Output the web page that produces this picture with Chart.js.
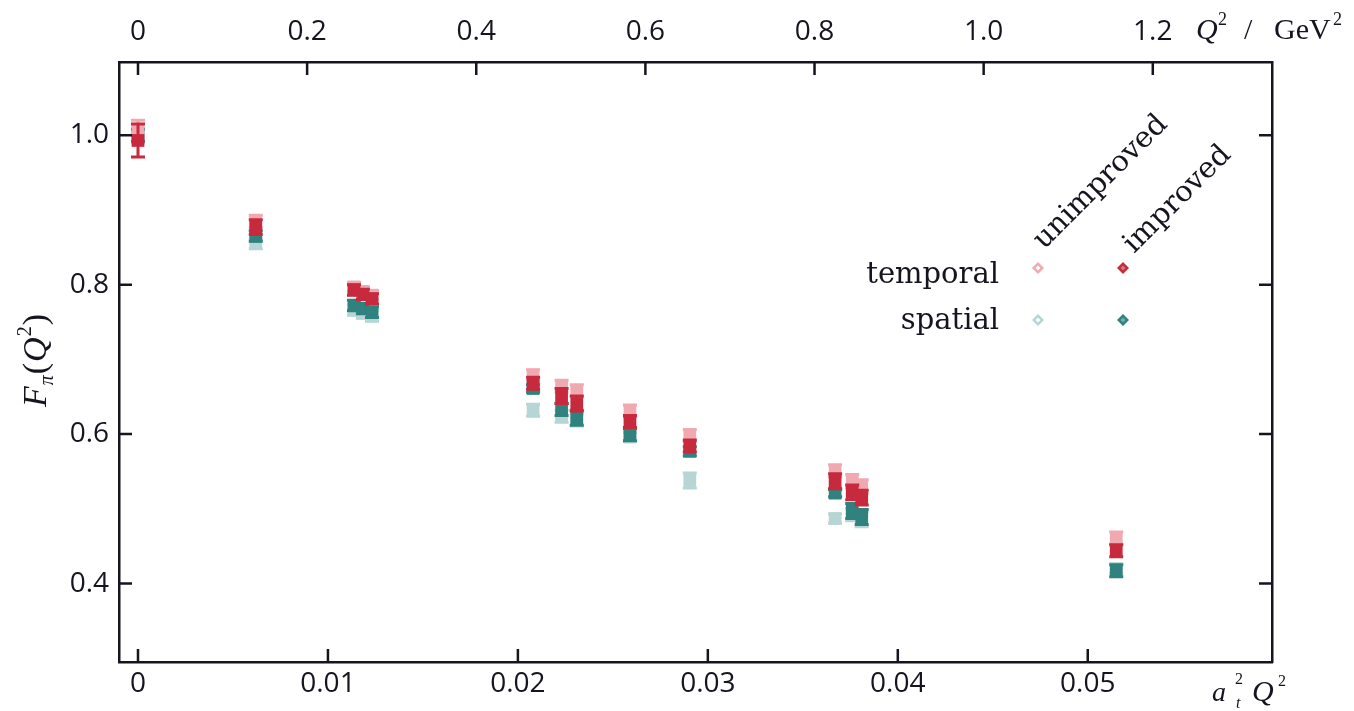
<!DOCTYPE html>
<html>
<head>
<meta charset="utf-8">
<script src="https://cdn.jsdelivr.net/npm/chart.js@4/dist/chart.umd.min.js"></script>
<style>
  html, body { margin: 0; background: #fff; }
  #wrap { width: 1354px; height: 711px; }
</style>
</head>
<body>
<div id="wrap"><canvas id="chart"></canvas></div>
<script>
// a_t^2 Q^2 for each measured momentum
const xValues = [0, 0.0062, 0.01137, 0.01184, 0.01232, 0.0208, 0.0223, 0.0231, 0.0259, 0.02905, 0.0367, 0.0376, 0.0381, 0.0515];

// F_pi(Q^2) for each current / improvement
const temporalUnimproved = [1.008, 0.885, 0.797, 0.791, 0.786, 0.679, 0.664, 0.658, 0.631, 0.598, 0.551, 0.537, 0.53, 0.461];
const temporalImproved = [0.993, 0.877, 0.793, 0.787, 0.781, 0.668, 0.651, 0.641, 0.617, 0.584, 0.537, 0.522, 0.515, 0.444];
const spatialUnimproved = [1.0, 0.855, 0.766, 0.762, 0.758, 0.632, 0.624, 0.619, 0.596, 0.538, 0.487, 0.492, 0.486, 0.42];
const spatialImproved = [1.0, 0.865, 0.772, 0.768, 0.763, 0.661, 0.633, 0.622, 0.599, 0.577, 0.521, 0.497, 0.489, 0.417];

// error bars (half widths)
const errTemporalUnimproved = [0.012, 0.008, 0.006, 0.006, 0.006, 0.007, 0.008, 0.008, 0.008, 0.008, 0.008, 0.009, 0.009, 0.008];
const errTemporalImproved = [0.022, 0.01, 0.007, 0.007, 0.007, 0.008, 0.01, 0.01, 0.008, 0.008, 0.01, 0.01, 0.01, 0.008];
const errSpatialUnimproved = [0.01, 0.007, 0.007, 0.007, 0.007, 0.008, 0.008, 0.008, 0.006, 0.01, 0.006, 0.008, 0.01, 0.006];
const errSpatialImproved = [0.008, 0.007, 0.007, 0.007, 0.007, 0.005, 0.008, 0.01, 0.008, 0.006, 0.005, 0.01, 0.01, 0.008];

// tick labels
const xTicks = [0, 0.01, 0.02, 0.03, 0.04, 0.05];
const xTickLabels = ["0", "0.01", "0.02", "0.03", "0.04", "0.05"];
const q2Ticks = [0, 0.2, 0.4, 0.6, 0.8, 1.0, 1.2];
const q2TickLabels = ["0", "0.2", "0.4", "0.6", "0.8", "1.0", "1.2"];
const yTicks = [0.4, 0.6, 0.8, 1.0];
const yTickLabels = ["0.4", "0.6", "0.8", "1.0"];

const xMin = -0.001;
const xMax = 0.0597;
const q2PerX = 1 / 0.04452; // GeV^2 per unit of a_t^2 Q^2

const PINK = "#f0a9b1";
const RED = "#c62a3c";
const LIGHT_TEAL = "#b6d5d4";
const DARK_TEAL = "#2f827d";
const INK = "#15151f";

function points(ys) {
  return xValues.map((x, i) => ({ x: x, y: ys[i] }));
}

function makeSet(label, ys, errs, color) {
  return {
    label: label,
    data: points(ys),
    errors: errs,
    backgroundColor: color,
    borderColor: color,
    pointStyle: "rect",
    pointRadius: 9,
    pointBorderWidth: 0,
    showLine: false,
  };
}

// error bars, drawn just under each dataset's markers
const errorBars = {
  id: "errorBars",
  beforeDatasetDraw(chart, args) {
    const ds = chart.data.datasets[args.index];
    const y = chart.scales.y;
    const ctx = chart.ctx;
    ctx.save();
    ctx.strokeStyle = ds.borderColor;
    ctx.lineWidth = 3;
    args.meta.data.forEach((pt, i) => {
      const v = ds.data[i].y;
      const e = ds.errors[i];
      const top = y.getPixelForValue(v + e);
      const bot = y.getPixelForValue(v - e);
      ctx.beginPath();
      ctx.moveTo(pt.x, top);
      ctx.lineTo(pt.x, bot);
      ctx.moveTo(pt.x - 7, top);
      ctx.lineTo(pt.x + 7, top);
      ctx.moveTo(pt.x - 7, bot);
      ctx.lineTo(pt.x + 7, bot);
      ctx.stroke();
    });
    ctx.restore();
  },
};

// inward tick marks, axis titles and the legend grid
const decorations = {
  id: "decorations",
  afterDraw(chart) {
    const ctx = chart.ctx;
    const a = chart.chartArea;
    const sx = chart.scales.x;
    const sq = chart.scales.x2;
    const sy = chart.scales.y;
    const len = 13;

    ctx.save();
    ctx.strokeStyle = INK;
    ctx.lineWidth = 2.5;
    ctx.beginPath();
    xTicks.forEach((v) => {
      const px = sx.getPixelForValue(v);
      ctx.moveTo(px, a.bottom);
      ctx.lineTo(px, a.bottom - len);
    });
    q2Ticks.forEach((v) => {
      const px = sq.getPixelForValue(v);
      ctx.moveTo(px, a.top);
      ctx.lineTo(px, a.top + len);
    });
    yTicks.forEach((v) => {
      const py = sy.getPixelForValue(v);
      ctx.moveTo(a.left, py);
      ctx.lineTo(a.left + len, py);
      ctx.moveTo(a.right, py);
      ctx.lineTo(a.right - len, py);
    });
    ctx.stroke();

    ctx.fillStyle = INK;
    ctx.textBaseline = "alphabetic";
    ctx.textAlign = "left";

    // top axis title: Q^2 / GeV^2
    ctx.font = "italic 30px 'Liberation Serif'";
    ctx.fillText("Q", 1196, 39);
    ctx.font = "18px 'Liberation Serif'";
    ctx.fillText("2", 1218, 25);
    ctx.font = "30px 'Liberation Serif'";
    ctx.fillText("/", 1244, 39);
    ctx.fillText("GeV", 1274, 39);
    ctx.font = "18px 'Liberation Serif'";
    ctx.fillText("2", 1333, 25);

    // bottom axis title: a_t^2 Q^2
    ctx.font = "italic 28px 'Liberation Serif'";
    ctx.fillText("a", 1212, 701);
    ctx.font = "italic 16px 'Liberation Serif'";
    ctx.fillText("t", 1236, 708);
    ctx.font = "16px 'Liberation Serif'";
    ctx.fillText("2", 1235, 684);
    ctx.font = "italic 30px 'Liberation Serif'";
    ctx.fillText("Q", 1252, 701);
    ctx.font = "16px 'Liberation Serif'";
    ctx.fillText("2", 1278, 686);

    // y axis title: F_pi(Q^2), rotated
    const parts = [
      ["F", "italic 34px 'Liberation Serif'", 0],
      ["\u03c0", "italic 20px 'Liberation Serif'", 7],
      ["(", "34px 'Liberation Serif'", 0],
      ["Q", "italic 34px 'Liberation Serif'", 0],
      ["2", "20px 'Liberation Serif'", -15],
      [")", "34px 'Liberation Serif'", 0],
    ];
    let total = 0;
    parts.forEach((p) => {
      ctx.font = p[1];
      total += ctx.measureText(p[0]).width + 1;
    });
    ctx.save();
    ctx.translate(0, 360);
    ctx.rotate(-Math.PI / 2);
    let tx = -total / 2;
    parts.forEach((p) => {
      ctx.font = p[1];
      ctx.fillText(p[0], tx, 46 + p[2]);
      tx += ctx.measureText(p[0]).width + 1;
    });
    ctx.restore();

    // legend rows
    ctx.font = "29px 'DejaVu Serif'";
    ctx.textAlign = "right";
    ctx.fillText("temporal", 999, 283);
    ctx.fillText("spatial", 999, 329);

    // legend columns, written at 45 degrees
    ctx.textAlign = "left";
    ctx.save();
    ctx.translate(1044, 250);
    ctx.rotate(-Math.PI / 4);
    ctx.fillText("unimproved", 0, 0);
    ctx.restore();
    ctx.save();
    ctx.translate(1134, 254);
    ctx.rotate(-Math.PI / 4);
    ctx.fillText("improved", 0, 0);
    ctx.restore();

    diamond(ctx, 1038, 268, PINK, true);
    diamond(ctx, 1123, 268, RED, false);
    diamond(ctx, 1038, 320, LIGHT_TEAL, true);
    diamond(ctx, 1123, 320, DARK_TEAL, false);
    ctx.restore();
  },
};

function diamond(ctx, x, y, color, hollow) {
  ctx.save();
  ctx.fillStyle = color;
  ctx.beginPath();
  ctx.moveTo(x, y - 6);
  ctx.lineTo(x + 6, y);
  ctx.lineTo(x, y + 6);
  ctx.lineTo(x - 6, y);
  ctx.closePath();
  ctx.fill();
  ctx.fillStyle = hollow ? "#fff" : "rgba(255,255,255,0.35)";
  ctx.beginPath();
  ctx.moveTo(x, y - 2.5);
  ctx.lineTo(x + 2.5, y);
  ctx.lineTo(x, y + 2.5);
  ctx.lineTo(x - 2.5, y);
  ctx.closePath();
  ctx.fill();
  ctx.restore();
}

const tickFont = { family: "'Open Sans', sans-serif", size: 28 };

new Chart(document.getElementById("chart"), {
  type: "scatter",
  data: {
    datasets: [
      makeSet("temporal improved", temporalImproved, errTemporalImproved, RED),
      makeSet("temporal unimproved", temporalUnimproved, errTemporalUnimproved, PINK),
      makeSet("spatial improved", spatialImproved, errSpatialImproved, DARK_TEAL),
      makeSet("spatial unimproved", spatialUnimproved, errSpatialUnimproved, LIGHT_TEAL),
    ],
  },
  options: {
    responsive: true,
    maintainAspectRatio: false,
    animation: false,
    layout: { padding: 0 },
    plugins: {
      legend: { display: false },
      tooltip: { enabled: false },
    },
    scales: {
      x: {
        type: "linear",
        position: "bottom",
        min: xMin,
        max: xMax,
        afterBuildTicks: (s) => { s.ticks = xTicks.map((v) => ({ value: v })); },
        afterFit: (s) => { s.height = 49; },
        ticks: {
          color: INK,
          font: tickFont,
          padding: 5,
          maxRotation: 0,
          callback: (v, i) => xTickLabels[i],
        },
        grid: { display: false, drawTicks: false },
        border: { display: true, color: INK, width: 2.5 },
      },
      x2: {
        type: "linear",
        position: "top",
        min: xMin * q2PerX,
        max: xMax * q2PerX,
        afterBuildTicks: (s) => { s.ticks = q2Ticks.map((v) => ({ value: v })); },
        afterFit: (s) => { s.height = 62; },
        ticks: {
          color: INK,
          font: tickFont,
          padding: 13,
          maxRotation: 0,
          callback: (v, i) => q2TickLabels[i],
        },
        grid: { display: false, drawTicks: false },
        border: { display: true, color: INK, width: 2.5 },
      },
      y: {
        type: "linear",
        position: "left",
        min: 0.295,
        max: 1.098,
        afterBuildTicks: (s) => { s.ticks = yTicks.map((v) => ({ value: v })); },
        afterFit: (s) => { s.width = 119; },
        ticks: {
          color: INK,
          font: tickFont,
          padding: 10,
          callback: (v, i) => yTickLabels[i],
        },
        grid: { display: false, drawTicks: false },
        border: { display: true, color: INK, width: 2.5 },
      },
      y2: {
        type: "linear",
        position: "right",
        min: 0.295,
        max: 1.098,
        afterFit: (s) => { s.width = 82; },
        ticks: { display: false },
        grid: { display: false, drawTicks: false },
        border: { display: true, color: INK, width: 2.5 },
      },
    },
  },
  plugins: [errorBars, decorations],
});
</script>
</body>
</html>
